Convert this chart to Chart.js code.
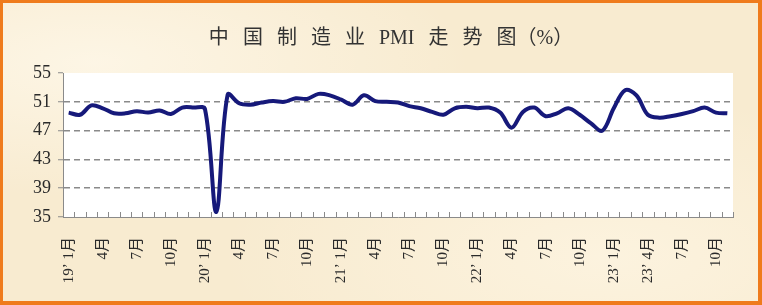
<!DOCTYPE html>
<html>
<head>
<meta charset="utf-8">
<script src="https://cdn.jsdelivr.net/npm/chart.js@4"></script>
<style>
  body { margin:0; background:#fff; }
  #frame { position:relative; width:762px; height:305px; background:#ef7b1c; }
  #inner { position:absolute; left:3px; top:3px; width:755px; height:298px;
    background:
      radial-gradient(ellipse at 12% 20%, rgba(255,250,238,0.7), rgba(255,250,238,0) 40%),
      radial-gradient(ellipse at 80% 85%, rgba(255,248,232,0.6), rgba(255,248,232,0) 45%),
      #f8ebd0; }
  canvas { display:block; }
</style>
</head>
<body>
<div id="frame"><div id="inner"><canvas id="c" width="755" height="298"></canvas></div></div>
<script>
// --- DATA ---
const months = [
  '19’ 1月','2月','3月','4月','5月','6月','7月','8月','9月','10月','11月','12月',
  '20’ 1月','2月','3月','4月','5月','6月','7月','8月','9月','10月','11月','12月',
  '21’ 1月','2月','3月','4月','5月','6月','7月','8月','9月','10月','11月','12月',
  '22’ 1月','2月','3月','4月','5月','6月','7月','8月','9月','10月','11月','12月',
  '23’ 1月','2月','3月','23’ 4月','5月','6月','7月','8月','9月','10月','11月'
];
const pmi = [
  49.5, 49.2, 50.5, 50.1, 49.4, 49.4, 49.7, 49.5, 49.8, 49.3, 50.2, 50.2,
  50.0, 35.7, 52.0, 50.8, 50.6, 50.9, 51.1, 51.0, 51.5, 51.4, 52.1, 51.9,
  51.3, 50.6, 51.9, 51.1, 51.0, 50.9, 50.4, 50.1, 49.6, 49.2, 50.1, 50.3,
  50.1, 50.2, 49.5, 47.4, 49.6, 50.2, 49.0, 49.4, 50.1, 49.2, 48.0, 47.0,
  50.1, 52.6, 51.9, 49.2, 48.8, 49.0, 49.3, 49.7, 50.2, 49.5, 49.4
];
const yMin = 35, yMax = 55, yStep = 4;
const gap = '\u2002\u2009';
const titleText = ['中', '国', '制', '造', '业', 'PMI', '走', '势', '图（%）'].join(gap);

// white plot area + inner tick marks on the category axis
const plotDeco = {
  id: 'plotDeco',
  beforeDraw(chart) {
    const a = chart.chartArea, ctx = chart.ctx;
    ctx.save();
    ctx.fillStyle = '#ffffff';
    ctx.fillRect(a.left, a.top, a.right - a.left, a.bottom - a.top);
    ctx.restore();
  },
  beforeDatasetsDraw(chart) {
    const x = chart.scales.x, a = chart.chartArea, ctx = chart.ctx;
    ctx.save();
    ctx.strokeStyle = '#8a8a8a';
    ctx.lineWidth = 1;
    for (let i = 0; i <= months.length; i++) {
      const px = Math.round(x.getPixelForValue(i - 0.5)) + 0.5;
      ctx.beginPath();
      ctx.moveTo(px, a.bottom);
      ctx.lineTo(px, a.bottom - 5);
      ctx.stroke();
    }
    ctx.restore();
  }
};

new Chart(document.getElementById('c'), {
  type: 'line',
  data: {
    labels: months,
    datasets: [{
      data: pmi,
      borderColor: '#16197a',
      borderWidth: 4,
      pointRadius: 0,
      tension: 0.35,
      fill: false
    }]
  },
  options: {
    responsive: false,
    animation: false,
    layout: { padding: { top: 0, left: 26, right: 5, bottom: 0 } },
    plugins: {
      legend: { display: false },
      tooltip: { enabled: false },
      title: {
        display: true,
        text: titleText,
        color: '#333333',
        font: { family: "'Liberation Serif', 'Noto Sans CJK SC'", size: 20, weight: 'normal' },
        padding: { top: 24, bottom: 22 }
      }
    },
    scales: {
      x: {
        offset: true,
        afterFit(s) { s.height = 84; },
        grid: { display: false },
        border: { display: true, color: '#8a8a8a', width: 1 },
        ticks: {
          autoSkip: false,
          maxRotation: 90,
          minRotation: 90,
          padding: 12,
          color: '#2a2a2a',
          font: { family: "'Liberation Serif', 'Noto Sans CJK SC'", size: 15 },
          callback: (v, i) => (i % 3 === 0 ? months[i] : '')
        }
      },
      y: {
        min: yMin,
        max: yMax,
        afterFit(s) { s.width = 34; },
        grid: {
          color: (c) => (c.tick && (c.tick.value === yMin || c.tick.value === yMax)) ? 'rgba(0,0,0,0)' : '#8a8a8a',
          lineWidth: 1.5,
          tickColor: '#8a8a8a',
          tickLength: 5,
          tickWidth: 1
        },
        border: { display: true, color: '#8a8a8a', width: 1, dash: [6, 4] },
        ticks: {
          stepSize: yStep,
          padding: 7,
          color: '#2a2a2a',
          font: { family: "'Liberation Serif', 'Noto Sans CJK SC'", size: 18 }
        }
      },
      // empty right-hand spacer so the plot ends where the reference's does
      yRight: {
        position: 'right',
        afterFit(s) { s.width = 20; },
        grid: { display: false },
        border: { display: false },
        ticks: { display: false }
      }
    }
  },
  plugins: [plotDeco]
});
</script>
</body>
</html>
